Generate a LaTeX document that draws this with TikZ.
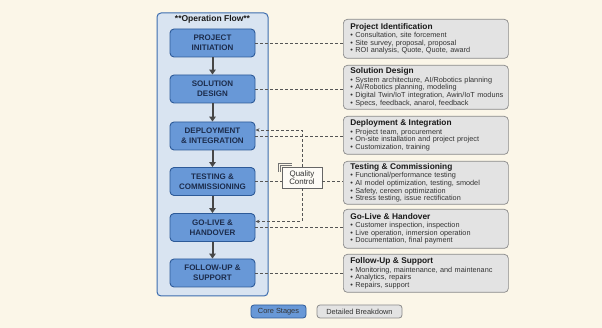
\documentclass[tikz,border=0pt]{standalone}
\usepackage{fontspec}
\setmainfont{Liberation Sans}
\usetikzlibrary{arrows.meta,calc}
\definecolor{bg}{HTML}{FBF6E8}
\definecolor{panelfill}{HTML}{D9E4F1}
\definecolor{paneldraw}{HTML}{3D6DAE}
\definecolor{stagefill}{HTML}{6898D7}
\definecolor{stagedraw}{HTML}{2D5A98}
\definecolor{stagetext}{HTML}{1C2C4C}
\definecolor{detfill}{HTML}{E3E3E3}
\definecolor{detdraw}{HTML}{8A8A8A}
\definecolor{dashc}{HTML}{555555}
\definecolor{arrowc}{HTML}{474747}
\newcommand\dtitle[1]{{\fontsize{8.3}{8.3}\selectfont\bfseries\color{black!90}#1}\\[0.8pt]}
\hbadness=10000 \hfuzz=20pt
\begin{document}
\begin{tikzpicture}[x=1pt,y=-1pt,
 stagebox/.style={draw=stagedraw, fill=stagefill, line width=0.9pt, rounded corners=4pt,
   minimum width=85pt, minimum height=28pt, inner sep=0pt, align=center,
   font=\fontsize{8}{9.7}\selectfont\bfseries, text=stagetext},
 detbox/.style={draw=detdraw, fill=detfill, line width=0.7pt, rounded corners=4pt,
   text width=151pt, inner xsep=7pt, inner ysep=0pt, align=left, anchor=north west,
   font=\fontsize{7.3}{7.6}\selectfont, text=black!80},
 flowarrow/.style={draw=arrowc, line width=2pt, -{Triangle[length=5pt,width=6.5pt]}},
 link/.style={draw=dashc, line width=0.75pt, dash pattern=on 3pt off 2pt},
 linkarrow/.style={link, -{Stealth[length=4pt,width=3.5pt]}},
 legbox/.style={line width=0.8pt, rounded corners=3pt, minimum height=13pt, inner sep=0pt,
   font=\fontsize{7.4}{8}\selectfont, text=black!80}
]
\useasboundingbox (0,0) rectangle (602,328);
\fill[bg] (0,0) rectangle (602,328);

% panel
\node[draw=paneldraw, fill=panelfill, line width=1pt, rounded corners=4pt,
  minimum width=111pt, minimum height=283pt, inner sep=0pt] (panel) at (212.5,154.5) {};
\node[font=\fontsize{8.5}{9}\selectfont\bfseries, text=black!90, inner sep=0pt] (ptitle) at (212.5,19) {**Operation Flow**};

% stages
\node[stagebox] (S1) at (212.5,43) {PROJECT\\INITIATION};
\node[stagebox] (S2) at (212.5,89) {SOLUTION\\DESIGN};
\node[stagebox] (S3) at (212.5,136) {DEPLOYMENT\\\& INTEGRATION};
\node[stagebox] (S4) at (212.5,181.5) {TESTING \&\\COMMISSIONING};
\node[stagebox] (S5) at (212.5,227.5) {GO-LIVE \&\\HANDOVER};
\node[stagebox] (S6) at (212.5,273) {FOLLOW-UP \&\\SUPPORT};

\draw[flowarrow] (S1) -- (S2);
\draw[flowarrow] (S2) -- (S3);
\draw[flowarrow] (S3) -- (S4);
\draw[flowarrow] (S4) -- (S5);
\draw[flowarrow] (S5) -- (S6);

% details
\node[detbox, minimum height=39pt] (D1) at (343,19) {\dtitle{Project Identification}%
\mbox{• Consultation, site forcement}\\
\mbox{• Site survey, proposal, proposal}\\
\mbox{• ROI analysis, Quote, Quote, award}};
\node[detbox, minimum height=44pt] (D2) at (343,65) {\dtitle{Solution Design}%
\mbox{• System architecture, AI/Robotics planning}\\
\mbox{• AI/Robotics planning, modeling}\\
\mbox{• Digital Twin/IoT integration, Awin/IoT moduns}\\
\mbox{• Specs, feedback, anarol, feedback}};
\node[detbox, minimum height=38pt] (D3) at (343,116) {\dtitle{Deployment \& Integration}%
\mbox{• Project team, procurement}\\
\mbox{• On-site installation and project project}\\
\mbox{• Customization, training}};
\node[detbox, minimum height=43pt] (D4) at (343,161) {\dtitle{Testing \& Commissioning}%
\mbox{• Functional/performance testing}\\
\mbox{• AI model optimization, testing, smodel}\\
\mbox{• Safety, cereen opttimization}\\
\mbox{• Stress testing, issue rectification}};
\node[detbox, minimum height=39pt] (D5) at (343,209) {\dtitle{Go-Live \& Handover}%
\mbox{• Customer inspection, inspection}\\
\mbox{• Live operation, inmersion operation}\\
\mbox{• Documentation, final payment}};
\node[detbox, minimum height=38pt] (D6) at (343,254) {\dtitle{Follow-Up \& Support}%
\mbox{• Monitoring, maintenance, and maintenanc}\\
\mbox{• Analytics, repairs}\\
\mbox{• Repairs, support}};

% quality control
\node[draw=black!60, fill=white!60!bg, line width=0.7pt, minimum width=40pt, minimum height=21pt,
  inner sep=0pt, align=center, font=\fontsize{7.9}{8.6}\selectfont, text=black!80] (QC) at (302,177.5) {Quality\\Control};
\coordinate (b1a) at ($(QC.north west)+(-3,5)$);
\coordinate (b1b) at ($(QC.north west)+(-3,-3)$);
\coordinate (b1c) at ($(QC.north west)+(10,-3)$);
\coordinate (b2a) at ($(QC.north west)+(-1.5,5)$);
\coordinate (b2b) at ($(QC.north west)+(-1.5,-1.5)$);
\coordinate (b2c) at ($(QC.north west)+(10,-1.5)$);
\draw[black!55, line width=0.5pt] (b1a) -- (b1b) -- (b1c);
\draw[black!55, line width=0.5pt] (b2a) -- (b2b) -- (b2c);

% links
\draw[link] (S1.east) -- (S1.east -| D1.west);
\draw[link] (S2.east) -- (S2.east -| D2.west);
\draw[link] (S3.east) -- (S3.east -| D3.west);
\draw[link] (S4.east) -- (S4.east -| QC.west);
\draw[link] (S4.east -| QC.east) -- (S4.east -| D4.west);
\draw[link] (S5.east) -- (S5.east -| D5.west);
\draw[link] (S6.east) -- (S6.east -| D6.west);
\draw[linkarrow] (QC.north) |- ([yshift=6pt]S3.east);
\draw[linkarrow] (QC.south) |- ([yshift=6pt]S5.east);

% legend
\node[legbox, draw=stagedraw, fill=stagefill, minimum width=55pt] (L1) at (278.5,311.5) {Core Stages};
\node[legbox, draw=detdraw, fill=detfill, minimum width=85pt] (L2) at (359.5,311.5) {Detailed Breakdown};
\end{tikzpicture}
\end{document}
